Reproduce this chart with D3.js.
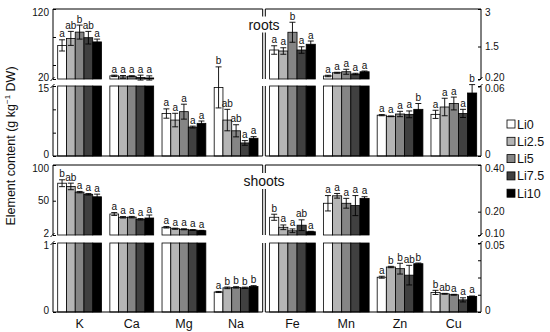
<!DOCTYPE html>
<html>
<head>
<meta charset="utf-8">
<script src="https://cdn.jsdelivr.net/npm/d3@7"></script>
<style>
  body { margin: 0; background: #fff; }
  text { font-family: "Liberation Sans", Arial, sans-serif; fill: #111; }
</style>
</head>
<body>
<div id="chart"></div>
<script>
const WIDTH = 550;
const HEIGHT = 332;

const elements = ["K", "Ca", "Mg", "Na", "Fe", "Mn", "Zn", "Cu"];
const treatments = ["Li0", "Li2.5", "Li5", "Li7.5", "Li10"];
const colors = ["#ffffff", "#b5b5b5", "#858585", "#404040", "#000000"];

// roots, one row per element, one value per treatment
const rootsMean = [
  [68, 78, 87, 79, 73],
  [24.5, 23, 24, 22, 21.5],
  [9.1, 7.7, 9.5, 6.2, 7.0],
  [14.7, 7.7, 5.4, 2.8, 3.8],
  [1.36, 1.32, 2.07, 1.36, 1.59],
  [0.32, 0.45, 0.49, 0.40, 0.49],
  [0.035, 0.034, 0.036, 0.0357, 0.040],
  [0.0357, 0.042, 0.045, 0.0365, 0.054]
];
const rootsErr = [
  [8, 10, 10, 9, 4],
  [1, 2, 0.7, 3.5, 3],
  [1.0, 1.45, 1.6, 0.2, 0.5],
  [4.4, 2.3, 1.3, 0.5, 0.35],
  [0.17, 0.13, 0.4, 0.13, 0.13],
  [0.03, 0.02, 0.1, 0.03, 0.03],
  [0.0005, 0.0003, 0.0023, 0.0029, 0.005],
  [0.0035, 0.0075, 0.0055, 0.0035, 0.0072]
];
const rootsSig = [
  ["a", "ab", "b", "ab", "a"],
  ["a", "a", "a", "a", "a"],
  ["a", "a", "a", "a", "a"],
  ["b", "ab", "ab", "a", "a"],
  ["a", "a", "b", "a", "a"],
  ["a", "a", "a", "a", "a"],
  ["a", "a", "a", "a", "b"],
  ["a", "a", "a", "a", "b"]
];

// shoots
const shootsMean = [
  [74.5, 70, 62, 59, 55.5],
  [31.4, 26.8, 27, 24, 25.8],
  [12.8, 10.8, 10, 9, 8],
  [0.29, 0.35, 0.357, 0.35, 0.37],
  [0.176, 0.133, 0.118, 0.142, 0.114],
  [0.236, 0.268, 0.236, 0.226, 0.257],
  [0.0252, 0.0326, 0.0314, 0.0267, 0.035],
  [0.0142, 0.0132, 0.0125, 0.0088, 0.0113]
];
const shootsErr = [
  [4.8, 4.6, 1, 1, 3.7],
  [2, 1, 1, 1, 4.2],
  [1, 0.8, 0.7, 0.6, 0.5],
  [0.008, 0.012, 0.01, 0.01, 0.012],
  [0.013, 0.01, 0.008, 0.023, 0.002],
  [0.033, 0.01, 0.021, 0.043, 0.007],
  [0.0007, 0.0005, 0.0039, 0.0071, 0.0005],
  [0.0015, 0.0003, 0.0003, 0.0015, 0.0003]
];
const shootsSig = [
  ["b", "ab", "a", "a", "a"],
  ["a", "a", "a", "a", "a"],
  ["a", "a", "a", "a", "a"],
  ["a", "b", "b", "b", "b"],
  ["b", "a", "a", "ab", "a"],
  ["a", "a", "a", "a", "a"],
  ["a", "b", "b", "ab", "b"],
  ["b", "ab", "a", "a", "a"]
];

// axis domains and ticks (value, label)
const rootsLeftUpper = [20, 120];
const rootsLeftLower = [0, 15];
const rootsRightUpper = [0.2, 3];
const rootsRightLower = [0, 0.06];
const shootsLeftUpper = [2, 100];
const shootsLeftLower = [0, 1];
const shootsRightUpper = [0.1, 0.4];
const shootsRightLower = [0, 0.05];

const rootsLeftUpperTicks = [[20, "20"], [40, ""], [80, ""], [120, "120"]];
const rootsLeftLowerTicks = [[0, "0"], [5, ""], [10, ""], [15, "15"]];
const rootsRightUpperTicks = [[0.2, "0.20"], [1.5, "1.5"], [3, "3"]];
const rootsRightLowerTicks = [[0, "0"], [0.06, "0.06"]];
const shootsLeftUpperTicks = [[2, "2"], [50, "50"], [100, "100"]];
const shootsLeftLowerTicks = [[0, "0"], [1, "1"]];
const shootsRightUpperTicks = [[0.1, "0.10"], [0.2, "0.20"], [0.4, "0.40"]];
const shootsRightLowerTicks = [[0, "0"], [0.0125, ""], [0.025, ""], [0.0375, ""], [0.05, "0.05"]];

const X = { L0: 53, L1: 262.7, R0: 265.3, R1: 481 };

const rows = [
  {
    name: "roots", mean: rootsMean, err: rootsErr, sig: rootsSig,
    up: [79, 9], lo: [156, 86],
    leftUp: rootsLeftUpper, leftLo: rootsLeftLower,
    rightUp: rootsRightUpper, rightLo: rootsRightLower,
    ticks: [rootsLeftUpperTicks, rootsLeftLowerTicks, rootsRightUpperTicks, rootsRightLowerTicks],
    labelY: 29.5
  },
  {
    name: "shoots", mean: shootsMean, err: shootsErr, sig: shootsSig,
    up: [235, 165], lo: [312, 243],
    leftUp: shootsLeftUpper, leftLo: shootsLeftLower,
    rightUp: shootsRightUpper, rightLo: shootsRightLower,
    ticks: [shootsLeftUpperTicks, shootsLeftLowerTicks, shootsRightUpperTicks, shootsRightLowerTicks],
    labelY: 186
  }
];

const svg = d3
  .select("#chart")
  .append("svg")
  .attr("width", WIDTH)
  .attr("height", HEIGHT);

const xLeft = d3.scaleBand().domain(elements.slice(0, 4)).range([X.L0, X.L1])
  .paddingInner(0.16).paddingOuter(0.09);
const xRight = d3.scaleBand().domain(elements.slice(4)).range([X.R0, X.R1])
  .paddingInner(0.15).paddingOuter(0.08);
const xOf = (el) => (elements.indexOf(el) < 4 ? xLeft : xRight);

rows.forEach((row) => {
  const yLU = d3.scaleLinear().domain(row.leftUp).range(row.up);
  const yLL = d3.scaleLinear().domain(row.leftLo).range(row.lo);
  const yRU = d3.scaleLinear().domain(row.rightUp).range(row.up);
  const yRL = d3.scaleLinear().domain(row.rightLo).range(row.lo);

  const g = svg.append("g").attr("class", row.name);

  elements.forEach((el, i) => {
    const xs = xOf(el);
    const bw = xs.bandwidth() / treatments.length;
    const yUp = i < 4 ? yLU : yRU;
    const yLo = i < 4 ? yLL : yRL;
    const loMax = yLo.domain()[1];

    treatments.forEach((t, j) => {
      const v = row.mean[i][j];
      const e = row.err[i][j];
      const x = xs(el) + j * bw;
      let y;
      if (v > loMax) {
        // full bar in the lower panel, rest in the upper one
        g.append("rect")
          .attr("x", x).attr("y", yLo(loMax))
          .attr("width", bw).attr("height", yLo(0) - yLo(loMax))
          .style("fill", colors[j]).style("stroke", "#000").style("stroke-width", 0.8);
        y = yUp;
        g.append("rect")
          .attr("x", x).attr("y", yUp(v))
          .attr("width", bw).attr("height", yUp.range()[0] - yUp(v))
          .style("fill", colors[j]).style("stroke", "#000").style("stroke-width", 0.8);
      } else {
        y = yLo;
        g.append("rect")
          .attr("x", x).attr("y", yLo(v))
          .attr("width", bw).attr("height", yLo(0) - yLo(v))
          .style("fill", colors[j]).style("stroke", "#000").style("stroke-width", 0.8);
      }
      const cx = x + bw / 2;
      const cap = 3;
      const eb = g.append("g").style("stroke", "#000").style("stroke-width", 0.9);
      eb.append("line").attr("x1", cx).attr("x2", cx).attr("y1", y(v - e)).attr("y2", y(v + e));
      eb.append("line").attr("x1", cx - cap).attr("x2", cx + cap).attr("y1", y(v + e)).attr("y2", y(v + e));
      eb.append("line").attr("x1", cx - cap).attr("x2", cx + cap).attr("y1", y(v - e)).attr("y2", y(v - e));
      g.append("text")
        .attr("x", cx).attr("y", y(v + e) - 2.5)
        .attr("text-anchor", "middle")
        .attr("font-size", "10px")
        .text(row.sig[i][j]);
    });
  });

  // panel frames (open at the break)
  const frame = g.append("g").style("fill", "none").style("stroke", "#000").style("stroke-width", 1);
  [[X.L0, X.L1], [X.R0, X.R1]].forEach(([a, b]) => {
    frame.append("path").attr("d", `M${a},${row.up[0]}V${row.up[1]}H${b}V${row.up[0]}`);
    frame.append("path").attr("d", `M${a},${row.lo[1]}V${row.lo[0]}H${b}V${row.lo[1]}`);
  });
  // break marks
  [X.L0, X.R1].forEach((bx) => {
    [row.up[0], row.lo[1]].forEach((by) => {
      frame.append("line")
        .attr("x1", bx - 2.5).attr("y1", by + 2)
        .attr("x2", bx + 1.5).attr("y2", by - 2);
    });
  });

  // axes
  const axes = [
    [yLU, X.L0, d3.axisLeft, row.ticks[0]],
    [yLL, X.L0, d3.axisLeft, row.ticks[1]],
    [yRU, X.R1, d3.axisRight, row.ticks[2]],
    [yRL, X.R1, d3.axisRight, row.ticks[3]]
  ];
  const nudge = (py) => {
    if (Math.abs(py - row.up[1]) < 0.5) return "0.6em";   // top of row
    if (Math.abs(py - row.up[0]) < 0.5) return "0.1em";   // above the break
    if (Math.abs(py - row.lo[1]) < 0.5) return "0.55em";  // below the break
    if (Math.abs(py - row.lo[0]) < 0.5) return "0.1em";   // bottom of row
    return "0.32em";
  };
  axes.forEach(([scale, ax, axisFn, ticks]) => {
    const labels = new Map(ticks);
    g.append("g")
      .attr("transform", `translate(${ax},0)`)
      .call(
        axisFn(scale)
          .tickValues(ticks.map((d) => d[0]))
          .tickFormat((d) => labels.get(d))
          .tickSizeInner(-3)
          .tickSizeOuter(0)
          .tickPadding(4)
      )
      .call((a) => {
        a.select(".domain").remove();
        a.selectAll(".tick text")
          .attr("font-size", "10px")
          .attr("dy", (d) => nudge(scale(d)))
          .style("font-family", "Liberation Sans, Arial, sans-serif")
          .style("fill", "#111");
      });
  });

  // panel title on a white patch
  const title = g.append("text")
    .attr("x", 264)
    .attr("y", row.labelY)
    .attr("text-anchor", "middle")
    .attr("font-size", "14px")
    .text(row.name);
  const bb = title.node().getBBox();
  g.append("rect")
    .attr("x", bb.x - 1).attr("y", bb.y)
    .attr("width", bb.width + 2).attr("height", bb.height)
    .style("fill", "#fff");
  title.raise();
});

// category labels
svg.append("g")
  .selectAll("text")
  .data(elements)
  .enter()
  .append("text")
  .attr("x", (d) => xOf(d)(d) + xOf(d).bandwidth() / 2)
  .attr("y", 328)
  .attr("text-anchor", "middle")
  .attr("font-size", "12.5px")
  .text((d) => d);

// y title
const yTitle = svg.append("text")
  .attr("transform", "translate(15,146) rotate(-90)")
  .attr("text-anchor", "middle")
  .attr("font-size", "12.5px");
yTitle.append("tspan").text("Element content (g kg");
yTitle.append("tspan").attr("font-size", "8px").attr("dy", -5).text("\u22121");
yTitle.append("tspan").attr("dy", 5).text(" DW)");

// legend
const legend = svg.append("g").attr("transform", "translate(507,0)");
treatments.forEach((t, j) => {
  const cy = 124 + j * 17.3;
  legend.append("rect")
    .attr("x", 0).attr("y", cy - 4)
    .attr("width", 8).attr("height", 8)
    .style("fill", colors[j]).style("stroke", "#000").style("stroke-width", 0.8);
  legend.append("text")
    .attr("x", 10).attr("y", cy + 4.5)
    .attr("font-size", "12.5px")
    .text(t);
});
</script>
</body>
</html>
